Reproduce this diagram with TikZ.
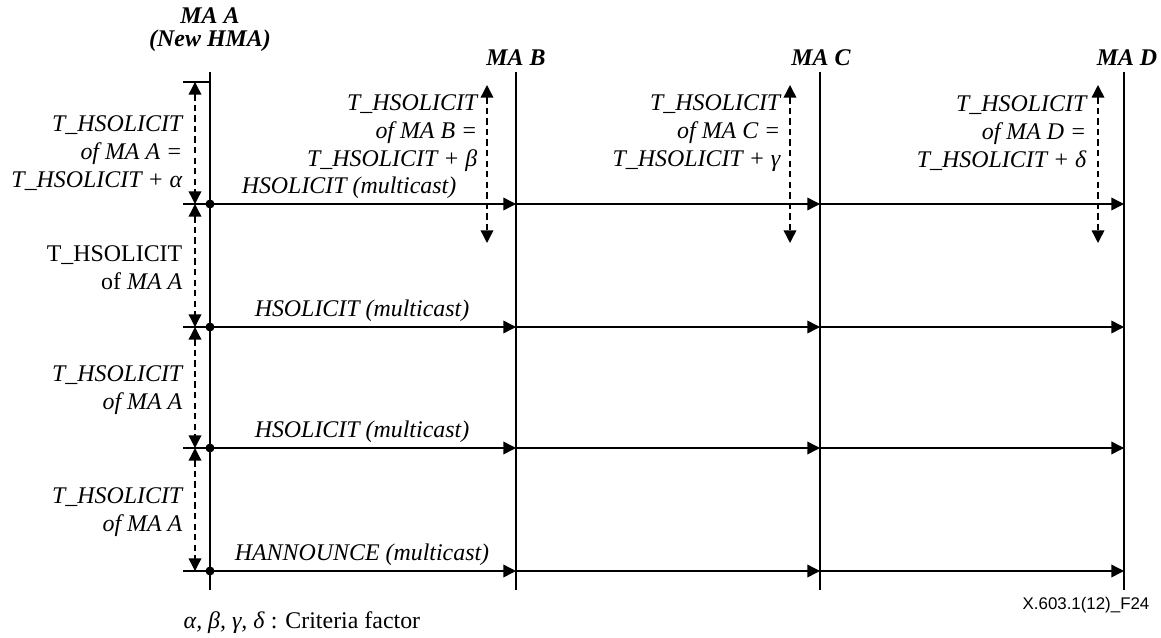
\documentclass[tikz,border=0pt]{standalone}
\usepackage{fontspec}
\setmainfont{Liberation Serif}
\newfontfamily\arial{Liberation Sans}
\usetikzlibrary{arrows.meta}
\begin{document}
\begin{tikzpicture}[x=0.025cm,y=-0.025cm,line width=1pt,
  font=\fontsize{17}{20}\selectfont,
  tip/.style={-{Triangle[length=9pt,width=9pt]}},
  dim/.style={dash pattern=on 4.5pt off 3pt,{Triangle[length=9pt,width=9pt]}-{Triangle[length=9pt,width=9pt]}},
  lbl/.style={align=right,inner sep=0pt,font=\fontsize{17}{20}\selectfont\itshape},
  ma/.style={inner sep=0pt,font=\fontsize{17}{20}\selectfont\bfseries\itshape}]
\useasboundingbox (0,0) rectangle (1161,637);
\newcommand\viesti[4]{
\coordinate (t#1) at (183,#2);
\coordinate (a#1) at (210,#2);
\coordinate (b#1) at (516,#2);
\coordinate (c#1) at (820,#2);
\coordinate (d#1) at (1124,#2);
\draw (t#1) -- (a#1);
\draw[tip] (a#1) -- (b#1);
\draw[tip] (b#1) -- (c#1);
\draw[tip] (c#1) -- (d#1);
\fill (a#1) circle (4.5);
\node[lbl,anchor=base] (m#1) at (#3,#2-11) {#4};
}
% lifelines
\coordinate (atop) at (210,72);
\coordinate (abot) at (210,590);
\coordinate (btop) at (516,72);
\coordinate (bbot) at (516,590);
\coordinate (ctop) at (820,72);
\coordinate (cbot) at (820,590);
\coordinate (dtop) at (1124,72);
\coordinate (dbot) at (1124,590);
\draw (atop) -- (abot);
\draw (btop) -- (bbot);
\draw (ctop) -- (cbot);
\draw (dtop) -- (dbot);
\node[ma] (maa) at (210,16) {MA A};
\node[ma] (newhma) at (210,41) {(New HMA)};
\node[ma] (mab) at (516,58) {MA B};
\node[ma] (mac) at (821,58) {MA C};
\node[ma] (mad) at (1127,58) {MA D};
% top tick
\coordinate (t0) at (183,82);
\coordinate (a0) at (210,82);
\draw (t0) -- (a0);
\viesti{1}{204}{349}{HSOLICIT (multicast)}
\viesti{2}{327}{362}{HSOLICIT (multicast)}
\viesti{3}{448}{362}{HSOLICIT (multicast)}
\viesti{4}{571}{362}{HANNOUNCE (multicast)}
% intervals of MA A
\coordinate (k0) at (195,82);
\coordinate (k1) at (195,204);
\coordinate (k2) at (195,327);
\coordinate (k3) at (195,448);
\coordinate (k4) at (195,571);
\draw[dim] (k0) -- (k1);
\draw[dim] (k1) -- (k2);
\draw[dim] (k2) -- (k3);
\draw[dim] (k3) -- (k4);
\node[lbl,anchor=east] (la1) at (183,153) {T\_HSOLICIT\\of MA A =\\T\_HSOLICIT + α};
\node[lbl,anchor=east,font=\fontsize{17}{20}\selectfont] (la2) at (183,268) {T\_HSOLICIT\\of \textit{MA A}};
\node[lbl,anchor=east] (la3) at (183,390) {T\_HSOLICIT\\of MA A};
\node[lbl,anchor=east] (la4) at (183,512) {T\_HSOLICIT\\of MA A};
% intervals of MA B, C, D
\coordinate (bu) at (487,85);
\coordinate (bl) at (487,243);
\coordinate (cu) at (790,85);
\coordinate (cl) at (790,243);
\coordinate (du) at (1098,85);
\coordinate (dl) at (1098,243);
\draw[dim] (bu) -- (bl);
\draw[dim] (cu) -- (cl);
\draw[dim] (du) -- (dl);
\node[lbl,anchor=east] (lb) at (478,133) {T\_HSOLICIT\\of MA B =\\T\_HSOLICIT + β};
\node[lbl,anchor=east] (lc) at (781,133) {T\_HSOLICIT\\of MA C =\\T\_HSOLICIT + γ};
\node[lbl,anchor=east] (ld) at (1087,133) {T\_HSOLICIT\\of MA D =\\T\_HSOLICIT + δ};
\node[inner sep=0pt,font=\arial\fontsize{12}{14}\selectfont] (fig) at (1086,605) {X.603.1(12)\_F24};
\node[inner sep=0pt,anchor=base west] (note) at (183,628) {\textit{α, β, γ, δ} : Criteria factor};
\end{tikzpicture}
\end{document}
